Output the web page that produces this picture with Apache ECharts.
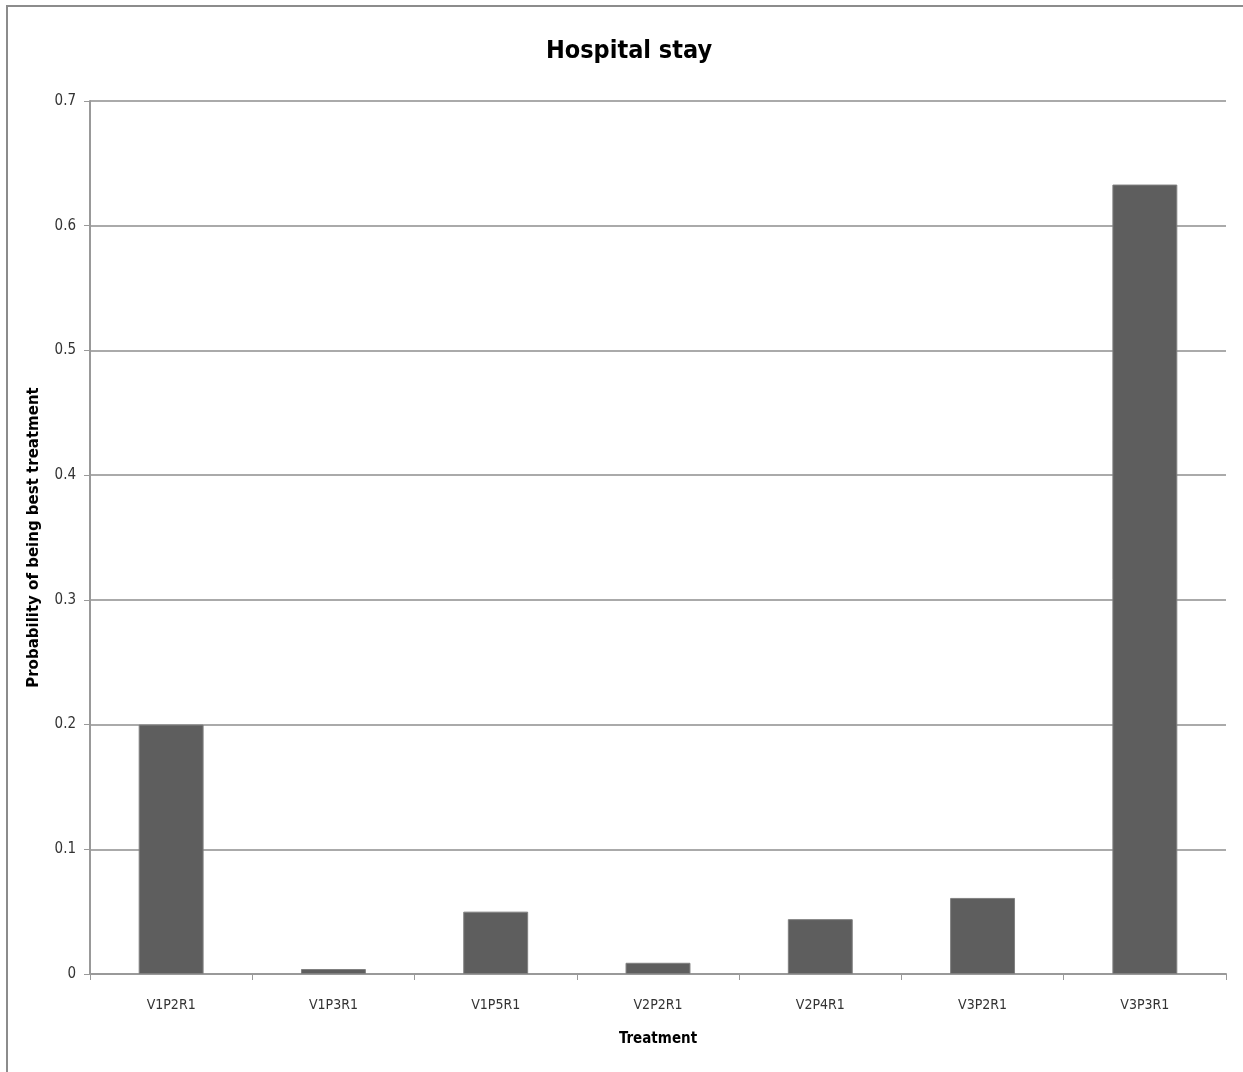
<!DOCTYPE html>
<html>
<head>
<meta charset="utf-8">
<script src="https://cdn.jsdelivr.net/npm/echarts@6/dist/echarts.min.js"></script>
<style>
  html, body { margin: 0; padding: 0; background: #fff; }
  #chart { width: 1243px; height: 1072px; }
</style>
</head>
<body>
<div id="chart"></div>
<script>
// Treatments and their probability of being the best treatment
const treatments = ['V1P2R1', 'V1P3R1', 'V1P5R1', 'V2P2R1', 'V2P4R1', 'V3P2R1', 'V3P3R1'];
const probabilities = [0.200, 0.004, 0.050, 0.009, 0.044, 0.061, 0.633];
const yTicks = [0, 0.1, 0.2, 0.3, 0.4, 0.5, 0.6, 0.7];

const narrow = "'Liberation Sans Narrow', 'DejaVu Sans Condensed', 'Liberation Sans', sans-serif";

const chart = echarts.init(document.getElementById('chart'));
chart.setOption({
  animation: false,
  backgroundColor: '#fff',
  graphic: [
    {
      type: 'polyline',
      shape: { points: [[7, 1072], [7, 6], [1243, 6]] },
      style: { stroke: '#8c8c8c', lineWidth: 2, fill: null }
    }
  ],
  title: {
    text: 'Hospital stay',
    left: 624,
    textAlign: 'center',
    top: 34,
    textStyle: { fontFamily: narrow, fontSize: 25, fontWeight: 'bold', color: '#000' }
  },
  grid: { left: 90, right: 17, top: 101, bottom: 98 },
  xAxis: {
    type: 'category',
    data: treatments,
    name: 'Treatment',
    nameLocation: 'middle',
    nameGap: 58,
    nameTextStyle: { fontFamily: narrow, fontSize: 15, fontWeight: 'bold', color: '#000' },
    axisLine: { lineStyle: { color: '#999', width: 2 } },
    axisTick: { show: true, alignWithLabel: false, length: 6, lineStyle: { color: '#999' } },
    axisLabel: { fontFamily: narrow, fontSize: 14, color: '#333', margin: 24 }
  },
  yAxis: {
    type: 'value',
    min: 0,
    max: 0.7,
    interval: 0.1,
    name: 'Probability of being best treatment',
    nameLocation: 'middle',
    nameGap: 48,
    nameTextStyle: { fontFamily: "'DejaVu Sans', sans-serif", fontSize: 15, fontWeight: 'bold', color: '#000' },
    axisLine: { show: true, lineStyle: { color: '#999', width: 2 } },
    axisTick: { show: true, length: 6, lineStyle: { color: '#999' } },
    axisLabel: {
      fontFamily: narrow, fontSize: 15, color: '#333', margin: 14,
      formatter: v => {
        const t = yTicks.find(k => Math.abs(k - v) < 1e-9);
        return t === undefined ? '' : String(Math.round(t * 10) / 10);
      }
    },
    splitLine: { lineStyle: { color: '#aaaaaa', width: 2 } }
  },
  series: [
    {
      type: 'bar',
      data: probabilities,
      barWidth: '40%',
      itemStyle: { color: '#5e5e5e', borderColor: '#808080', borderWidth: 1 }
    }
  ]
});
</script>
</body>
</html>
